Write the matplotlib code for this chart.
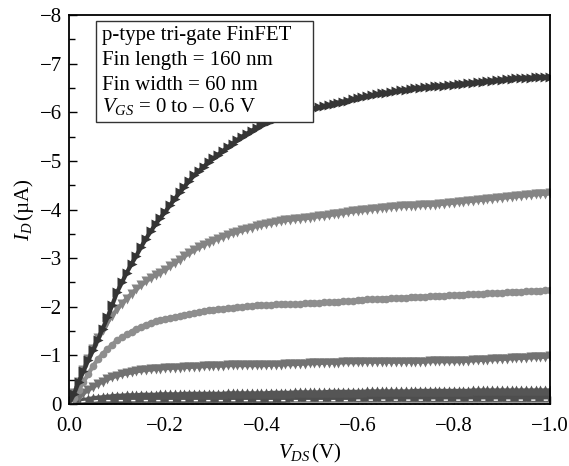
import numpy as np
import matplotlib
matplotlib.use("Agg")
import matplotlib.pyplot as plt
from matplotlib.patches import Rectangle

plt.rcParams['font.family'] = ['Liberation Serif', 'DejaVu Serif']
plt.rcParams['mathtext.fontset'] = 'custom'
plt.rcParams['mathtext.rm'] = 'Liberation Serif'
plt.rcParams['mathtext.it'] = 'Liberation Serif:italic'

# drain voltage grid (V), 0 to -1.0 in 0.01 V steps
vds = np.round(np.arange(0, 101) * -0.01, 2)

# drain current (uA) for VGS = -0.6 ... 0 V
id_vgs_06 = [
    0.00, -0.20, -0.45, -0.68, -0.90, -1.11, -1.32, -1.55, -1.78, -2.04,
    -2.30, -2.50, -2.70, -2.88, -3.05, -3.23, -3.40, -3.55, -3.70, -3.83,
    -3.95, -4.09, -4.22, -4.35, -4.47, -4.59, -4.70, -4.79, -4.88, -4.97,
    -5.05, -5.13, -5.20, -5.28, -5.35, -5.43, -5.50, -5.56, -5.62, -5.68,
    -5.73, -5.78, -5.82, -5.86, -5.90, -5.93, -5.96, -5.99, -6.01, -6.04,
    -6.06, -6.08, -6.10, -6.13, -6.15, -6.18, -6.20, -6.22, -6.24, -6.27,
    -6.29, -6.31, -6.33, -6.35, -6.37, -6.39, -6.40, -6.42, -6.43, -6.45,
    -6.46, -6.48, -6.49, -6.50, -6.51, -6.52, -6.53, -6.54, -6.55, -6.56,
    -6.57, -6.58, -6.59, -6.60, -6.61, -6.62, -6.63, -6.64, -6.65, -6.66,
    -6.67, -6.68, -6.69, -6.70, -6.70, -6.71, -6.71, -6.72, -6.72, -6.72,
    -6.72]
id_vgs_05 = [
    0.00, -0.22, -0.45, -0.70, -0.92, -1.14, -1.35, -1.52, -1.68, -1.82,
    -1.95, -2.06, -2.17, -2.27, -2.36, -2.44, -2.52, -2.59, -2.65, -2.70,
    -2.76, -2.83, -2.90, -2.97, -3.04, -3.10, -3.16, -3.22, -3.27, -3.32,
    -3.36, -3.40, -3.44, -3.48, -3.51, -3.54, -3.57, -3.60, -3.63, -3.66,
    -3.68, -3.70, -3.72, -3.74, -3.76, -3.78, -3.79, -3.80, -3.81, -3.82,
    -3.83, -3.85, -3.86, -3.87, -3.88, -3.90, -3.91, -3.93, -3.94, -3.96,
    -3.97, -3.98, -3.99, -4.01, -4.02, -4.03, -4.04, -4.05, -4.06, -4.07,
    -4.07, -4.08, -4.08, -4.09, -4.09, -4.10, -4.10, -4.11, -4.12, -4.13,
    -4.14, -4.15, -4.16, -4.17, -4.18, -4.19, -4.20, -4.21, -4.22, -4.23,
    -4.24, -4.25, -4.26, -4.27, -4.28, -4.29, -4.30, -4.31, -4.32, -4.32,
    -4.33]
id_vgs_04 = [
    0.00, -0.13, -0.28, -0.45, -0.62, -0.78, -0.92, -1.03, -1.13, -1.22,
    -1.31, -1.37, -1.43, -1.49, -1.54, -1.59, -1.63, -1.67, -1.70, -1.73,
    -1.75, -1.77, -1.79, -1.81, -1.83, -1.85, -1.87, -1.89, -1.91, -1.93,
    -1.94, -1.95, -1.96, -1.97, -1.98, -1.99, -2.00, -2.01, -2.02, -2.03,
    -2.03, -2.04, -2.04, -2.05, -2.05, -2.05, -2.05, -2.06, -2.06, -2.07,
    -2.07, -2.08, -2.08, -2.09, -2.09, -2.10, -2.10, -2.11, -2.12, -2.12,
    -2.13, -2.14, -2.15, -2.15, -2.16, -2.17, -2.17, -2.18, -2.18, -2.19,
    -2.19, -2.20, -2.20, -2.21, -2.21, -2.22, -2.22, -2.23, -2.23, -2.24,
    -2.24, -2.25, -2.25, -2.26, -2.26, -2.27, -2.27, -2.28, -2.28, -2.29,
    -2.29, -2.30, -2.30, -2.31, -2.31, -2.32, -2.32, -2.33, -2.33, -2.34,
    -2.34]
id_vgs_03 = [
    0.00, -0.07, -0.15, -0.22, -0.29, -0.35, -0.41, -0.46, -0.51, -0.55,
    -0.58, -0.61, -0.63, -0.65, -0.67, -0.69, -0.70, -0.71, -0.72, -0.73,
    -0.74, -0.74, -0.75, -0.75, -0.76, -0.76, -0.77, -0.77, -0.78, -0.78,
    -0.79, -0.79, -0.79, -0.80, -0.80, -0.80, -0.80, -0.80, -0.80, -0.80,
    -0.80, -0.80, -0.81, -0.81, -0.81, -0.82, -0.82, -0.82, -0.83, -0.83,
    -0.84, -0.84, -0.84, -0.85, -0.85, -0.85, -0.85, -0.86, -0.86, -0.86,
    -0.86, -0.87, -0.87, -0.87, -0.87, -0.87, -0.87, -0.87, -0.87, -0.87,
    -0.87, -0.87, -0.87, -0.87, -0.87, -0.88, -0.88, -0.88, -0.88, -0.88,
    -0.88, -0.88, -0.89, -0.89, -0.90, -0.90, -0.91, -0.91, -0.92, -0.92,
    -0.93, -0.93, -0.94, -0.94, -0.95, -0.95, -0.96, -0.96, -0.97, -0.97,
    -0.98]
id_vgs_02 = [
    0.00, -0.03, -0.06, -0.08, -0.10, -0.12, -0.13, -0.14, -0.15, -0.16,
    -0.17, -0.17, -0.18, -0.18, -0.18, -0.19, -0.19, -0.19, -0.19, -0.20,
    -0.20, -0.20, -0.20, -0.20, -0.21, -0.21, -0.21, -0.21, -0.21, -0.21,
    -0.21, -0.21, -0.21, -0.22, -0.22, -0.22, -0.22, -0.22, -0.22, -0.22,
    -0.22, -0.22, -0.23, -0.23, -0.23, -0.23, -0.23, -0.24, -0.24, -0.24,
    -0.24, -0.24, -0.24, -0.24, -0.25, -0.25, -0.25, -0.25, -0.25, -0.25,
    -0.25, -0.25, -0.26, -0.26, -0.26, -0.26, -0.26, -0.26, -0.26, -0.26,
    -0.26, -0.26, -0.27, -0.27, -0.27, -0.27, -0.27, -0.27, -0.27, -0.27,
    -0.27, -0.27, -0.27, -0.27, -0.28, -0.28, -0.28, -0.28, -0.28, -0.28,
    -0.28, -0.28, -0.28, -0.28, -0.28, -0.28, -0.28, -0.28, -0.28, -0.28,
    -0.28]
id_vgs_01 = [
    0.00, -0.02, -0.04, -0.06, -0.08, -0.09, -0.10, -0.11, -0.12, -0.12,
    -0.13, -0.13, -0.13, -0.14, -0.14, -0.14, -0.14, -0.14, -0.14, -0.14,
    -0.15, -0.15, -0.15, -0.15, -0.15, -0.15, -0.15, -0.15, -0.15, -0.15,
    -0.15, -0.15, -0.15, -0.15, -0.15, -0.15, -0.15, -0.15, -0.15, -0.15,
    -0.15, -0.15, -0.15, -0.15, -0.15, -0.15, -0.16, -0.16, -0.16, -0.16,
    -0.16, -0.16, -0.16, -0.16, -0.16, -0.16, -0.16, -0.16, -0.16, -0.16,
    -0.16, -0.16, -0.16, -0.16, -0.16, -0.16, -0.16, -0.16, -0.16, -0.16,
    -0.16, -0.16, -0.16, -0.16, -0.16, -0.17, -0.17, -0.17, -0.17, -0.17,
    -0.17, -0.17, -0.17, -0.17, -0.17, -0.17, -0.17, -0.17, -0.17, -0.17,
    -0.17, -0.17, -0.17, -0.17, -0.17, -0.17, -0.17, -0.17, -0.17, -0.17,
    -0.17]
id_vgs_00 = [
    0.00, -0.02, -0.04, -0.05, -0.06, -0.06, -0.07, -0.07, -0.07, -0.07,
    -0.07, -0.07, -0.07, -0.07, -0.07, -0.07, -0.07, -0.07, -0.07, -0.07,
    -0.07, -0.07, -0.07, -0.07, -0.07, -0.07, -0.07, -0.07, -0.07, -0.07,
    -0.07, -0.07, -0.07, -0.07, -0.07, -0.07, -0.07, -0.07, -0.07, -0.07,
    -0.07, -0.07, -0.07, -0.07, -0.07, -0.07, -0.07, -0.07, -0.07, -0.07,
    -0.07, -0.07, -0.07, -0.07, -0.07, -0.07, -0.07, -0.07, -0.07, -0.07,
    -0.08, -0.08, -0.08, -0.08, -0.08, -0.08, -0.08, -0.08, -0.08, -0.08,
    -0.08, -0.08, -0.08, -0.08, -0.08, -0.08, -0.08, -0.08, -0.08, -0.08,
    -0.08, -0.08, -0.08, -0.08, -0.08, -0.08, -0.08, -0.08, -0.08, -0.08,
    -0.08, -0.08, -0.08, -0.08, -0.08, -0.08, -0.08, -0.08, -0.08, -0.08,
    -0.08]

info_lines = ["p-type tri-gate FinFET", "Fin length = 160 nm",
              "Fin width = 60 nm", r"$V_{GS}$ = 0 to – 0.6 V"]

fig = plt.figure(figsize=(5.69, 4.66), dpi=100)
ax = fig.add_axes([0.1213, 0.133, 0.8453, 0.8348])

# (data, colour, marker) drawn bottom curve first
curves = [
    (id_vgs_00, '#9c9c9c', '<'),
    (id_vgs_01, '#4e4e4e', '^'),
    (id_vgs_02, '#555555', '^'),
    (id_vgs_03, '#727272', 'v'),
    (id_vgs_04, '#8e8e8e', 'o'),
    (id_vgs_05, '#848484', 'v'),
    (id_vgs_06, '#353535', '>'),
]
for data, col, mk in curves:
    ms = 5.5 if mk == 'o' else 7
    ax.plot(vds, data, color=col, lw=3, marker=mk, ms=ms, mec='none', mfc=col)
# dashed trace on the lowest curve
ax.plot(vds, id_vgs_00, color='white', lw=1.0, ls=(0, (3, 6)))

ax.set_xlim(0, -1.0)
ax.set_ylim(0, -8)
ax.set_xticks([0.0, -0.2, -0.4, -0.6, -0.8, -1.0])
ax.set_xticklabels(['0.0', '−0.2', '−0.4', '−0.6', '−0.8', '−1.0'])
ax.set_yticks(np.arange(0, -9, -1))
ax.set_yticklabels(['0'] + ['−%d' % k for k in range(1, 9)])
ax.set_yticks(np.arange(-0.5, -8, -1), minor=True)
ax.tick_params(axis='both', which='both', direction='in', labelsize=15,
               top=False, right=False, width=1.0)
ax.tick_params(axis='both', which='major', length=6)
ax.tick_params(axis='y', which='minor', length=4)
ax.tick_params(axis='x', which='major', pad=9)
ax.tick_params(axis='y', which='major', pad=5)
for s in ax.spines.values():
    s.set_linewidth(1.3)

ax.set_xlabel(r'$V_{DS}\,$(V)', fontsize=15, labelpad=5)
ax.set_ylabel(r'$I_D\,$(µA)', fontsize=15, labelpad=3)

ax.add_patch(Rectangle((0.056, 0.725), 0.451, 0.26, transform=ax.transAxes,
                       fill=True, fc='white', ec='#333333', lw=1.0, zorder=5))
for txt, yb in zip(info_lines, [0.936, 0.871, 0.807, 0.751]):
    ax.text(0.068, yb, txt, transform=ax.transAxes, fontsize=15,
            va='baseline', ha='left', zorder=6)

fig.savefig('out.png', dpi=100)
